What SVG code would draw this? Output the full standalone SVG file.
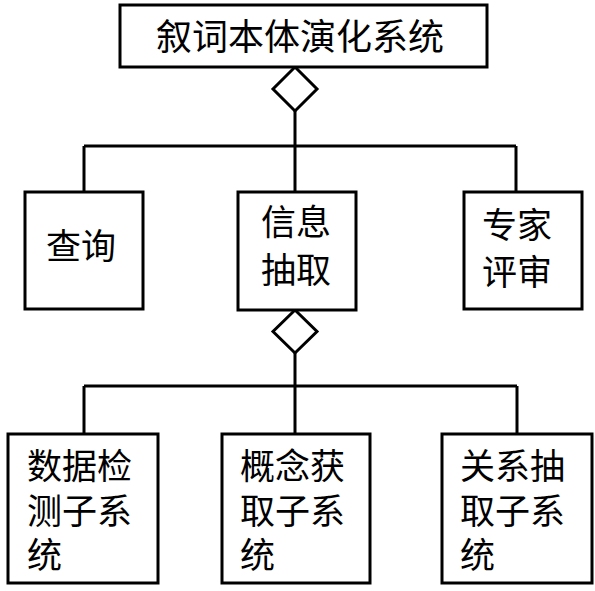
<svg xmlns="http://www.w3.org/2000/svg" width="595" height="591" viewBox="0 0 595 591">
<style>
.box{fill:#fff;stroke:#000;stroke-width:3}
.dia{fill:#fff;stroke:#000;stroke-width:3;stroke-linejoin:miter}
.ln{fill:none;stroke:#000;stroke-width:3}
text{font-family:"Noto Sans CJK SC","Noto Sans",sans-serif;fill:#000;font-size:35px}
.c{text-anchor:middle}
</style>
<rect width="595" height="591" fill="#fff"/>
<g id="connectors">
<path class="ln" d="M295,111 V146 M84,146 H516 M84,146 V192 M295,146 V192 M516,146 V192"/>
<path class="ln" d="M295,353 V386 M84,386 H517 M84,386 V434 M295,386 V434 M517,386 V434"/>
<polygon class="dia" points="295,67 317,89 295,111 273,89"/>
<polygon class="dia" points="295,310 317,331.5 295,353 273,331.5"/>
</g>
<g id="root">
<rect class="box" x="120" y="5" width="367" height="62"/>
<text class="c" x="300" y="50" style="font-size:36px">叙词本体演化系统</text>
</g>
<g id="query">
<rect class="box" x="25" y="192" width="118" height="117"/>
<text class="c" x="81" y="259">查询</text>
</g>
<g id="extract">
<rect class="box" x="238" y="192" width="118" height="118"/>
<text class="c" x="296" y="235">信息</text>
<text class="c" x="296" y="283">抽取</text>
</g>
<g id="review">
<rect class="box" x="464" y="192" width="118" height="117"/>
<text class="c" x="517" y="238">专家</text>
<text class="c" x="517" y="285">评审</text>
</g>
<g id="detect">
<rect class="box" x="8" y="434" width="150" height="149"/>
<text x="27" y="479">数据检</text>
<text x="27" y="524">测子系</text>
<text x="27" y="568">统</text>
</g>
<g id="concept">
<rect class="box" x="222" y="434" width="148" height="149"/>
<text x="240" y="479">概念获</text>
<text x="240" y="524">取子系</text>
<text x="240" y="568">统</text>
</g>
<g id="relation">
<rect class="box" x="442" y="434" width="150" height="149"/>
<text x="460" y="479">关系抽</text>
<text x="460" y="524">取子系</text>
<text x="460" y="568">统</text>
</g>
</svg>
